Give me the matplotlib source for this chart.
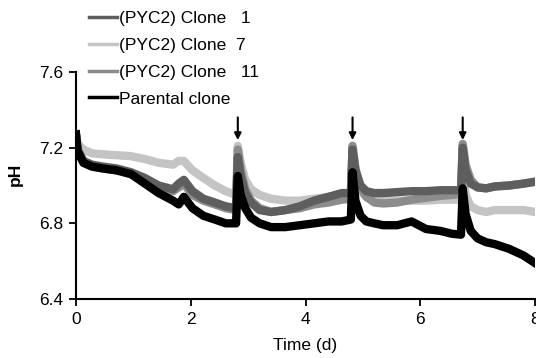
import matplotlib
matplotlib.use("Agg")
import matplotlib.pyplot as plt

plt.rcParams['font.family'] = ['Liberation Sans', 'DejaVu Sans']

time_d = [0, 0.03, 0.13, 0.28, 0.47, 0.71, 0.96, 1.2, 1.44, 1.69, 1.79, 1.88, 2.03, 2.22, 2.42, 2.61,
          2.79, 2.82, 2.87, 2.95, 3.05, 3.2, 3.4, 3.65, 3.9, 4.15, 4.4, 4.63,
          4.79, 4.82, 4.87, 4.96, 5.06, 5.2, 5.35, 5.6, 5.85, 6.1, 6.35, 6.55,
          6.71, 6.74, 6.79, 6.88, 7.0, 7.15, 7.3, 7.55, 7.8, 8.0]

clone7 = [7.27, 7.22, 7.19, 7.17, 7.165, 7.16, 7.155, 7.14, 7.12, 7.11, 7.13, 7.13, 7.08, 7.04, 7.00, 6.97,
          6.95, 7.21, 7.12, 7.03, 6.98, 6.95, 6.93, 6.92, 6.92, 6.93, 6.94, 6.95,
          6.95, 7.18, 7.05, 6.97, 6.94, 6.93, 6.925, 6.92, 6.92, 6.92, 6.925, 6.925,
          6.925, 7.10, 6.95, 6.89, 6.87, 6.86, 6.87, 6.87, 6.87, 6.86]

clone11 = [7.27, 7.18, 7.12, 7.10, 7.09, 7.08, 7.06, 7.03, 6.99, 6.97, 6.99, 7.01, 6.95, 6.92, 6.90, 6.88,
           6.87, 7.19, 7.08, 6.98, 6.92, 6.88, 6.86, 6.87, 6.88, 6.90, 6.91, 6.925,
           6.93, 7.21, 7.09, 6.99, 6.94, 6.91, 6.905, 6.91, 6.925, 6.935, 6.945, 6.95,
           6.955, 7.22, 7.11, 7.03, 6.99, 6.985, 6.995, 7.00, 7.01, 7.02]

clone1 = [7.27, 7.19, 7.13, 7.11, 7.10, 7.09, 7.07, 7.04, 7.00, 6.98, 7.01, 7.03, 6.97, 6.93, 6.91, 6.89,
          6.88, 7.15, 7.05, 6.96, 6.91, 6.87, 6.86, 6.87, 6.89, 6.92, 6.94, 6.96,
          6.96, 7.19, 7.08, 7.00, 6.97, 6.96, 6.96, 6.965, 6.97, 6.97, 6.975, 6.975,
          6.975, 7.20, 7.08, 7.01, 6.99, 6.985, 6.995, 7.00, 7.01, 7.02]

parental = [7.27, 7.18, 7.12, 7.10, 7.09, 7.08, 7.06, 7.01, 6.96, 6.92, 6.90, 6.94, 6.88, 6.84, 6.82, 6.80,
            6.80, 7.05, 6.95, 6.88, 6.83, 6.80, 6.78, 6.78, 6.79, 6.80, 6.81, 6.81,
            6.82, 7.07, 6.92, 6.84, 6.81, 6.80, 6.79, 6.79, 6.81, 6.77, 6.76, 6.745,
            6.74, 6.985, 6.85, 6.76, 6.72, 6.70, 6.69, 6.665, 6.63, 6.59]

arrow_times = [2.82, 4.82, 6.74]
yticks = [6.4, 6.8, 7.2, 7.6]
xticks = [0, 2, 4, 6, 8]

fig = plt.figure(figsize=(5.36, 3.58), dpi=100)
ax = fig.add_axes([76 / 536, 1 - 299 / 358, 459 / 536, 227 / 358])

lw = 6
ax.plot(time_d, clone7, color='#c4c4c4', lw=lw, solid_joinstyle='round')
ax.plot(time_d, clone11, color='#8c8c8c', lw=lw, solid_joinstyle='round')
ax.plot(time_d, clone1, color='#5e5e5e', lw=lw, solid_joinstyle='round')
ax.plot(time_d, parental, color='#000000', lw=lw, solid_joinstyle='round')

for t in arrow_times:
    ax.annotate('', xy=(t, 7.24), xytext=(t, 7.36),
                arrowprops=dict(arrowstyle='-|>', color='black', lw=1.5,
                                mutation_scale=10, shrinkA=0, shrinkB=0),
                annotation_clip=False)

ax.set_xlim(0, 8)
ax.set_ylim(6.4, 7.6)
ax.set_yticks(yticks)
ax.set_yticklabels([f'{v:.1f}' for v in yticks])
ax.set_xticks(xticks)
ax.set_xticklabels([str(v) for v in xticks])
for s in ['top', 'right']:
    ax.spines[s].set_visible(False)
for s in ['left', 'bottom']:
    ax.spines[s].set_linewidth(1.5)
ax.tick_params(axis='both', direction='out', length=5, width=1.3, labelsize=12.5, pad=4)
ax.set_xlabel('Time (d)', fontsize=12.5, labelpad=8)
ax.set_ylabel('pH', fontsize=12.5, fontweight='bold', labelpad=12)
ax.yaxis.set_label_coords(-0.115, 0.55)

handles = [plt.Line2D([], [], color=c, lw=2.5) for c in ['#5e5e5e', '#c4c4c4', '#8c8c8c', '#000000']]
labels = ['(PYC2) Clone   1', '(PYC2) Clone  7', '(PYC2) Clone   11', 'Parental clone']
fig.legend(handles, labels, loc='upper left', bbox_to_anchor=(0.154, 0.99), frameon=False,
           fontsize=12.5, handlelength=1.6, handletextpad=0.1, labelspacing=0.68, borderaxespad=0)

fig.savefig('out.png', dpi=100)
